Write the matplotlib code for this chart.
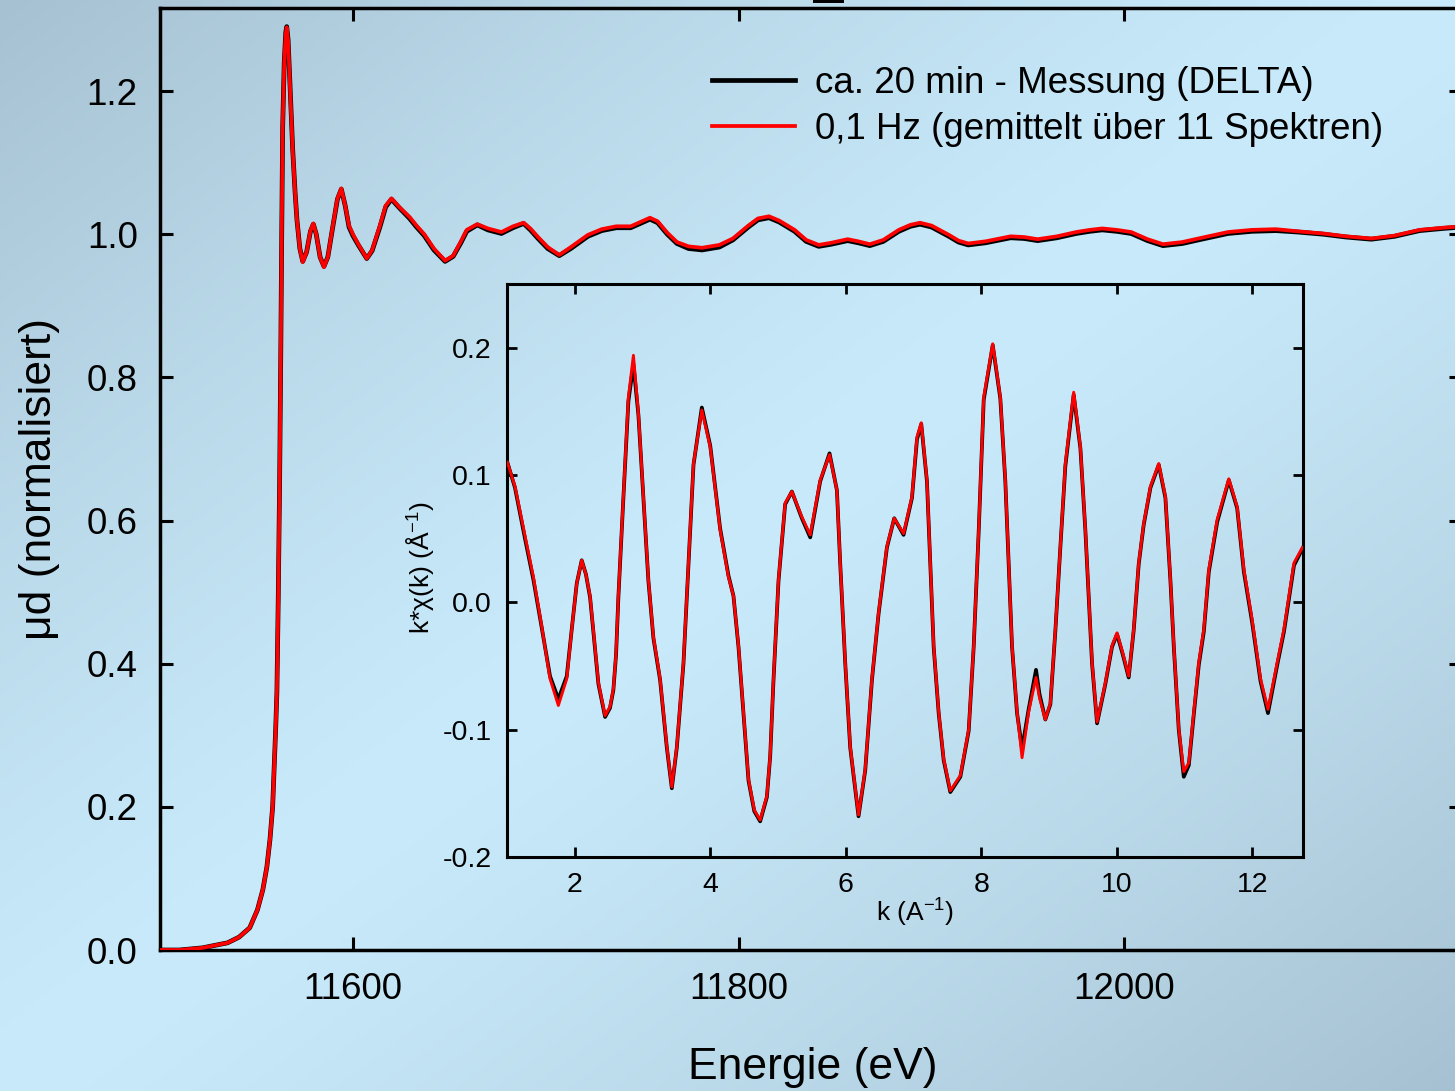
import numpy as np
import matplotlib
matplotlib.use("Agg")
import matplotlib.pyplot as plt
from matplotlib.patches import Rectangle

plt.rcParams['font.family'] = ['Liberation Sans', 'DejaVu Sans']
plt.rcParams['mathtext.fontset'] = 'custom'
plt.rcParams['mathtext.rm'] = 'Liberation Sans'
plt.rcParams['mathtext.default'] = 'regular'
plt.rcParams['axes.unicode_minus'] = False

# ---------------- data: main XANES spectrum ----------------
energy = [11500, 11510, 11522, 11535, 11541, 11546.5, 11550.5, 11553.3, 11555.4, 11557,
          11558.4, 11559.2, 11560, 11560.6, 11561.3, 11562, 11562.6, 11563.1, 11563.6, 11564.4,
          11565.2, 11565.7, 11566.4, 11567.5, 11568.8, 11570, 11571, 11572.5, 11574, 11576,
          11578, 11579.5, 11581, 11583, 11585, 11587, 11589.5, 11592, 11594, 11596,
          11598, 11600, 11603, 11607.2, 11610, 11614, 11617, 11620, 11624, 11629.4,
          11633, 11637, 11642, 11647.8, 11652, 11656, 11659, 11664.5, 11670, 11677,
          11683, 11688.5, 11692, 11696, 11701, 11707, 11713, 11721.8, 11729, 11736.5,
          11744, 11749, 11754, 11758, 11763, 11768, 11774, 11781, 11790, 11797,
          11805, 11810, 11815.7, 11821, 11829, 11835, 11841.5, 11848, 11856.5, 11862,
          11868, 11875, 11883, 11889, 11894, 11900, 11909, 11914, 11919, 11928,
          11941, 11948, 11955, 11965, 11975, 11982, 11988.5, 11996, 12003.5, 12012,
          12020, 12030, 12040, 12053.7, 12066, 12078.5, 12090, 12103, 12115, 12128,
          12140, 12153, 12165, 12175]
mu_red = [0.000, 0.000, 0.003, 0.010, 0.018, 0.031, 0.056, 0.084, 0.116, 0.154,
          0.200, 0.256, 0.311, 0.360, 0.490, 0.650, 0.830, 1.000, 1.150, 1.240,
          1.280, 1.289, 1.270, 1.200, 1.117, 1.060, 1.020, 0.980, 0.961, 0.975,
          1.005, 1.015, 1.000, 0.968, 0.954, 0.968, 1.010, 1.050, 1.064, 1.040,
          1.012, 1.000, 0.985, 0.966, 0.978, 1.012, 1.040, 1.050, 1.038, 1.024,
          1.012, 1.000, 0.980, 0.963, 0.970, 0.990, 1.006, 1.014, 1.008, 1.003,
          1.011, 1.016, 1.008, 0.996, 0.982, 0.971, 0.982, 0.999, 1.007, 1.011,
          1.011, 1.017, 1.023, 1.018, 1.002, 0.989, 0.983, 0.981, 0.985, 0.994,
          1.012, 1.022, 1.025, 1.019, 1.006, 0.992, 0.985, 0.988, 0.993, 0.990,
          0.986, 0.992, 1.006, 1.013, 1.016, 1.012, 0.999, 0.991, 0.987, 0.990,
          0.997, 0.996, 0.993, 0.997, 1.003, 1.006, 1.008, 1.006, 1.003, 0.993,
          0.986, 0.989, 0.995, 1.003, 1.006, 1.007, 1.004, 1.001, 0.997, 0.994,
          0.998, 1.006, 1.009, 1.011]
mu_black = [0.000, 0.000, 0.003, 0.010, 0.018, 0.031, 0.056, 0.084, 0.116, 0.154,
            0.200, 0.256, 0.311, 0.360, 0.490, 0.650, 0.830, 1.000, 1.150, 1.240,
            1.282, 1.290, 1.272, 1.202, 1.118, 1.060, 1.020, 0.980, 0.962, 0.975,
            1.004, 1.014, 1.000, 0.968, 0.955, 0.968, 1.009, 1.049, 1.063, 1.040,
            1.010, 0.998, 0.984, 0.966, 0.977, 1.010, 1.038, 1.049, 1.037, 1.022,
            1.010, 0.998, 0.978, 0.962, 0.969, 0.988, 1.004, 1.013, 1.006, 1.001,
            1.009, 1.015, 1.006, 0.994, 0.980, 0.970, 0.980, 0.997, 1.005, 1.009,
            1.009, 1.015, 1.021, 1.016, 1.000, 0.987, 0.980, 0.978, 0.982, 0.992,
            1.010, 1.020, 1.023, 1.017, 1.004, 0.990, 0.983, 0.986, 0.991, 0.988,
            0.984, 0.990, 1.004, 1.011, 1.014, 1.010, 0.997, 0.989, 0.985, 0.988,
            0.995, 0.994, 0.991, 0.995, 1.001, 1.004, 1.006, 1.004, 1.001, 0.991,
            0.984, 0.987, 0.993, 1.001, 1.004, 1.005, 1.003, 1.000, 0.996, 0.993,
            0.997, 1.005, 1.008, 1.010]

# ---------------- data: inset EXAFS k*chi(k) ----------------
k_vals = [1.005, 1.118, 1.266, 1.389, 1.513, 1.635, 1.758, 1.882, 1.956, 2.030,
          2.103, 2.165, 2.226, 2.290, 2.349, 2.448, 2.520, 2.570, 2.610, 2.644,
          2.718, 2.792, 2.866, 2.940, 3.013, 3.087, 3.161, 3.260, 3.359, 3.433,
          3.507, 3.605, 3.679, 3.753, 3.876, 4.000, 4.146, 4.269, 4.343, 4.417,
          4.491, 4.565, 4.650, 4.737, 4.836, 4.885, 4.934, 5.008, 5.106, 5.205,
          5.353, 5.476, 5.623, 5.761, 5.870, 5.919, 5.993, 6.066, 6.189, 6.288,
          6.387, 6.485, 6.608, 6.716, 6.854, 6.978, 7.052, 7.115, 7.199, 7.248,
          7.298, 7.372, 7.446, 7.544, 7.692, 7.815, 7.889, 7.963, 8.037, 8.170,
          8.282, 8.356, 8.405, 8.455, 8.529, 8.603, 8.700, 8.809, 8.860, 8.947,
          9.021, 9.095, 9.168, 9.242, 9.365, 9.464, 9.538, 9.587, 9.636, 9.710,
          9.833, 9.931, 10.005, 10.090, 10.177, 10.251, 10.325, 10.399, 10.498, 10.621,
          10.719, 10.793, 10.843, 10.916, 10.990, 11.064, 11.138, 11.212, 11.286, 11.360,
          11.483, 11.655, 11.778, 11.877, 12.000, 12.123, 12.233, 12.370, 12.469, 12.617,
          12.741]
chi_red = [0.110, 0.091, 0.052, 0.020, -0.019, -0.060, -0.081, -0.060, -0.021, 0.015,
           0.033, 0.022, 0.005, -0.030, -0.063, -0.089, -0.082, -0.068, -0.040, 0.005,
           0.083, 0.161, 0.194, 0.148, 0.083, 0.018, -0.027, -0.060, -0.113, -0.145,
           -0.113, -0.047, 0.031, 0.109, 0.151, 0.122, 0.057, 0.020, 0.005, -0.034,
           -0.086, -0.139, -0.163, -0.171, -0.152, -0.120, -0.060, 0.018, 0.078, 0.087,
           0.067, 0.053, 0.096, 0.116, 0.088, 0.031, -0.047, -0.113, -0.167, -0.131,
           -0.060, -0.008, 0.044, 0.066, 0.054, 0.083, 0.130, 0.141, 0.096, 0.031,
           -0.034, -0.086, -0.123, -0.148, -0.136, -0.100, -0.034, 0.057, 0.161, 0.203,
           0.161, 0.096, 0.031, -0.034, -0.086, -0.122, -0.086, -0.059, -0.075, -0.092,
           -0.079, -0.021, 0.044, 0.109, 0.165, 0.122, 0.057, 0.005, -0.047, -0.094,
           -0.063, -0.034, -0.024, -0.040, -0.058, -0.021, 0.031, 0.062, 0.091, 0.109,
           0.083, 0.018, -0.034, -0.099, -0.133, -0.126, -0.086, -0.047, -0.021, 0.026,
           0.065, 0.097, 0.075, 0.026, -0.014, -0.060, -0.084, -0.047, -0.021, 0.031,
           0.043]
chi_black = [0.110, 0.090, 0.050, 0.018, -0.020, -0.058, -0.076, -0.058, -0.021, 0.015,
             0.033, 0.022, 0.004, -0.031, -0.064, -0.090, -0.083, -0.069, -0.041, 0.004,
             0.082, 0.158, 0.187, 0.147, 0.082, 0.017, -0.028, -0.061, -0.114, -0.146,
             -0.114, -0.048, 0.030, 0.108, 0.153, 0.123, 0.058, 0.021, 0.005, -0.035,
             -0.087, -0.140, -0.164, -0.172, -0.153, -0.121, -0.061, 0.017, 0.077, 0.087,
             0.066, 0.051, 0.095, 0.117, 0.088, 0.030, -0.048, -0.114, -0.168, -0.132,
             -0.061, -0.009, 0.043, 0.066, 0.053, 0.082, 0.128, 0.140, 0.095, 0.030,
             -0.035, -0.087, -0.124, -0.149, -0.137, -0.101, -0.035, 0.056, 0.159, 0.202,
             0.160, 0.095, 0.030, -0.035, -0.087, -0.115, -0.084, -0.053, -0.072, -0.092,
             -0.080, -0.022, 0.043, 0.107, 0.163, 0.121, 0.056, 0.004, -0.048, -0.095,
             -0.064, -0.035, -0.025, -0.041, -0.059, -0.022, 0.030, 0.061, 0.090, 0.108,
             0.082, 0.017, -0.035, -0.100, -0.137, -0.128, -0.088, -0.049, -0.023, 0.024,
             0.063, 0.096, 0.074, 0.024, -0.016, -0.062, -0.087, -0.049, -0.023, 0.029,
             0.042]

legend_labels = ["ca. 20 min - Messung (DELTA)", "0,1 Hz (gemittelt über 11 Spektren)"]
main_xticks = [11600, 11800, 12000]
main_yticks = [0.0, 0.2, 0.4, 0.6, 0.8, 1.0, 1.2]
inset_xticks = [2, 4, 6, 8, 10, 12]
inset_yticks = [-0.2, -0.1, 0.0, 0.1, 0.2]

W, H = 1455, 1091
fig = plt.figure(figsize=(W / 100, H / 100), dpi=100)

# ---------------- background gradient ----------------
bg = fig.add_axes([0, 0, 1, 1], zorder=-10)
gx, gy = np.meshgrid(np.linspace(0, 1, 400), np.linspace(0, 1, 300))
t = np.abs((gx + gy) - 1.0) ** 1.3
light = np.array([200, 234, 250]) / 255
dark = np.array([166, 193, 210]) / 255
img = light[None, None, :] * (1 - t[..., None]) + dark[None, None, :] * t[..., None]
bg.imshow(img, aspect='auto', extent=[0, 1, 0, 1], origin='upper')
bg.set_xlim(0, 1)
bg.set_ylim(0, 1)
bg.axis('off')

fig.patches.append(Rectangle((813 / W, 1 - 3 / H), 31 / W, 3 / H, transform=fig.transFigure,
                             facecolor='black', edgecolor='none', zorder=5))

# ---------------- main axes ----------------
ax = fig.add_axes([160 / W, 1 - 950 / H, 1302 / W, 942 / H])
ax.patch.set_alpha(0)
ax.plot(energy, mu_black, color='black', lw=3.4, label=legend_labels[0], zorder=3)
ax.plot(energy, mu_red, color='#ff0000', lw=2.7, label=legend_labels[1], zorder=4)
ax.set_xlim(11500, 12175)
ax.set_ylim(0, 1.316)
ax.set_xticks(main_xticks)
ax.set_yticks(main_yticks)
ax.set_yticklabels([f"{v:.1f}" for v in main_yticks])
ax.tick_params(direction='in', length=9.5, width=2.2, top=True, right=True,
               labelsize=26.5, pad=16, color='black')
for s in ax.spines.values():
    s.set_linewidth(2.5)

leg = ax.legend(loc='upper left', bbox_to_anchor=(712 / W, 1 - 66 / H),
                bbox_transform=fig.transFigure, frameon=False, fontsize=26.5,
                handlelength=2.26, handletextpad=0.54, borderpad=0, borderaxespad=0,
                labelspacing=0.29)

fig.text(40 / W, 1 - 479 / H, "μd (normalisiert)", rotation=90, ha='center', va='center',
         fontsize=32)
fig.text(813 / W, 1 - 1068 / H, "Energie (eV)", ha='center', va='center', fontsize=32)

# ---------------- inset axes ----------------
ins = fig.add_axes([507 / W, 1 - 857 / H, 796 / W, 573 / H])
ins.patch.set_alpha(0)
ins.plot(k_vals, chi_black, color='black', lw=2.7, zorder=3)
ins.plot(k_vals, chi_red, color='#ff0000', lw=2.1, zorder=4)
ins.set_xlim(1.0, 12.75)
ins.set_ylim(-0.2, 0.25)
ins.set_xticks(inset_xticks)
ins.set_yticks(inset_yticks)
ins.set_yticklabels([f"{v:.1f}" for v in inset_yticks])
ins.tick_params(direction='in', length=7, width=2, top=True, right=True,
                labelsize=20.5, pad=11, color='black')
for s in ins.spines.values():
    s.set_linewidth(2.2)

fig.text(915 / W, 1 - 913 / H, "k (A$^{-1}$)", ha='center', va='center', fontsize=19)
fig.text(420 / W, 1 - 568 / H, "k*χ(k) (Å$^{-1}$)", rotation=90, ha='center', va='center',
         fontsize=19)

fig.savefig("out.png", dpi=100)
